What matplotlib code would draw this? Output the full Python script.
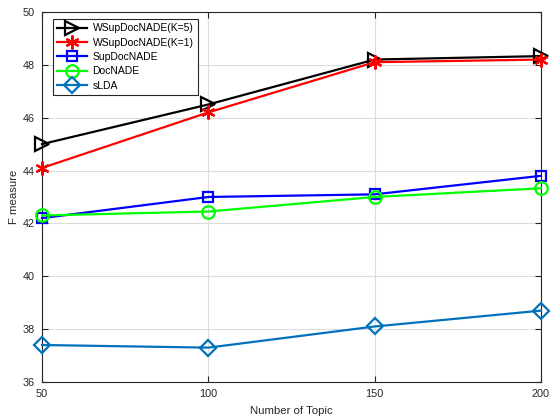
import numpy as np
import matplotlib
matplotlib.use("Agg")
import matplotlib.pyplot as plt

plt.rcParams['font.family'] = ['Liberation Sans', 'DejaVu Sans']

# data
topics = [50, 100, 150, 200]
wsup_k5 = [45.0, 46.5, 48.2, 48.33]
wsup_k1 = [44.1, 46.2, 48.1, 48.2]
supdocnade = [42.2, 43.0, 43.1, 43.8]
docnade = [42.3, 42.45, 43.0, 43.33]
slda = [37.4, 37.3, 38.1, 38.7]

labels = ['WSupDocNADE(K=5)', 'WSupDocNADE(K=1)', 'SupDocNADE', 'DocNADE', 'sLDA']
xticks = [50, 100, 150, 200]
yticks = [36, 38, 40, 42, 44, 46, 48, 50]

fig = plt.figure(figsize=(5.52, 4.2), dpi=100)
ax = fig.add_axes([0.0761, 0.0905, 0.9039, 0.881])

lw = 1.6
kw = dict(lw=lw, mew=1.6, clip_on=False, zorder=3)
ax.plot(topics, wsup_k5, color='black', marker='>', ms=10, mfc='none', label=labels[0], **kw)
ax.plot(topics, wsup_k1, color='red', marker=(6, 2, 0), ms=10, label=labels[1], **kw)
ax.plot(topics, supdocnade, color='blue', marker='s', ms=7, mfc='none', label=labels[2], **kw)
ax.plot(topics, docnade, color=(0, 1, 0), marker='o', ms=9, mfc='none', label=labels[3], **kw)
ax.plot(topics, slda, color=(0, 0.447, 0.741), marker='D', ms=8, mfc='none', label=labels[4], **kw)

ax.set_xlim(50, 200)
ax.set_ylim(36, 50)
ax.set_xticks(xticks)
ax.set_yticks(yticks)
ax.grid(True, color='#dcdcdc', lw=0.8)
ax.set_axisbelow(True)
ax.tick_params(direction='in', top=True, right=True, labelsize=7.8, colors='#262626',
               length=4, width=0.8, pad=5)
for sp in ax.spines.values():
    sp.set_color('#262626')
    sp.set_linewidth(0.8)

ax.set_xlabel('Number of Topic', fontsize=8.2, color='#262626', labelpad=5)
ax.set_ylabel('F measure', fontsize=8.2, color='#262626', labelpad=3)

leg = ax.legend(loc='upper left', bbox_to_anchor=(0.022, 0.981), borderaxespad=0, fontsize=7.5,
                handlelength=2.9, handletextpad=0.5, borderpad=0.4, labelspacing=0.42,
                fancybox=False, framealpha=1, edgecolor='#262626')
leg.get_frame().set_linewidth(0.8)

fig.savefig('out.png', dpi=100)
